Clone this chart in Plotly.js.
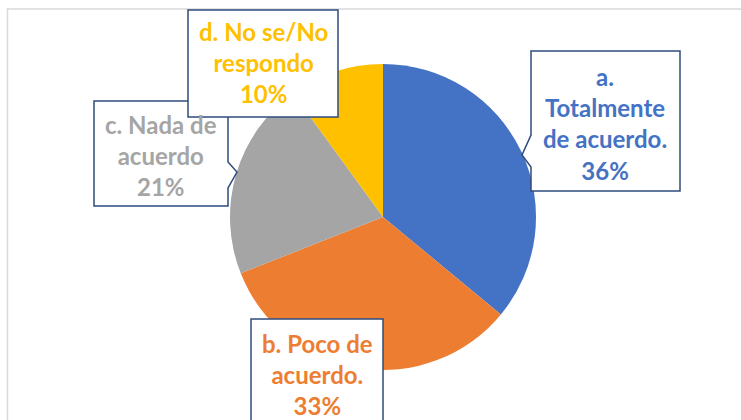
<!DOCTYPE html>
<html>
<head>
<meta charset="utf-8">
<script src="https://cdn.plot.ly/plotly-3.0.1.min.js"></script>
<style>html,body{margin:0;padding:0;background:#fff;}#chart{width:741px;height:420px;}</style>
</head>
<body>
<div id="chart"></div>
<script>
// Data
const categories = ["a. Totalmente de acuerdo.", "b. Poco de acuerdo.", "c. Nada de acuerdo", "d. No se/No respondo"];
const labelText = ["a.<br>Totalmente<br>de acuerdo.", "b. Poco de<br>acuerdo.", "c. Nada de<br>acuerdo", "d. No se/No<br>respondo"];
const values = [36, 33, 21, 10];
const colors = ["#4472C4", "#ED7D31", "#A5A5A5", "#FFC000"];

const W = 741, H = 420;
const X = p => p / W;
const Y = p => 1 - p / H;
const total = values.reduce((a, b) => a + b, 0);

const trace = {
  type: "pie",
  labels: categories,
  values: values,
  sort: false,
  direction: "clockwise",
  rotation: 0,
  marker: {colors: colors, line: {width: 0}},
  textinfo: "none",
  hoverinfo: "none",
  showlegend: false,
  domain: {x: [X(230), X(536)], y: [Y(370), Y(64)]}
};

const border = "#2F4B7C";
function pathFrom(pts) {
  return "M " + pts.map(p => X(p[0]) + "," + Y(p[1])).join(" L ") + " Z";
}
const shapes = [
  {type: "rect", xref: "paper", yref: "paper", x0: X(7.5), x1: X(760), y0: Y(440), y1: Y(9), line: {color: "#D9D9D9", width: 1.5}, fillcolor: "rgba(0,0,0,0)", layer: "below"},
  {type: "path", xref: "paper", yref: "paper", layer: "above", fillcolor: "#FFFFFF", line: {color: border, width: 1.5},
   path: pathFrom([[531, 51], [680, 51], [680, 191], [531, 191], [531, 167], [522, 155], [531, 135]])},
  {type: "path", xref: "paper", yref: "paper", layer: "above", fillcolor: "#FFFFFF", line: {color: border, width: 1.5},
   path: pathFrom([[251, 319], [383, 319], [383, 430], [251, 430]])},
  {type: "path", xref: "paper", yref: "paper", layer: "above", fillcolor: "#FFFFFF", line: {color: border, width: 1.5},
   path: pathFrom([[94, 101], [228, 101], [228, 162], [237, 172], [228, 188], [228, 206], [94, 206]])},
  {type: "path", xref: "paper", yref: "paper", layer: "above", fillcolor: "#FFFFFF", line: {color: border, width: 1.5},
   path: pathFrom([[188, 10], [338, 10], [338, 117], [188, 117]])}
];

const centers = [[605, 123], [317, 374], [161, 155], [263, 62]];
const annotations = labelText.map((t, i) => ({
  xref: "paper", yref: "paper",
  x: X(centers[i][0]), y: Y(centers[i][1]),
  xanchor: "center", yanchor: "middle",
  showarrow: false, align: "center",
  text: "<b>" + t + "<br>" + Math.round(values[i] / total * 100) + "%</b>",
  font: {family: "Lato, 'Open Sans', sans-serif", size: 24, weight: 900, color: colors[i]}
}));

const layout = {
  width: W, height: H,
  margin: {l: 0, r: 0, t: 0, b: 0},
  paper_bgcolor: "#FFFFFF",
  plot_bgcolor: "#FFFFFF",
  showlegend: false,
  shapes: shapes,
  annotations: annotations
};

Plotly.newPlot("chart", [trace], layout, {displayModeBar: false, staticPlot: true});
</script>
</body>
</html>
